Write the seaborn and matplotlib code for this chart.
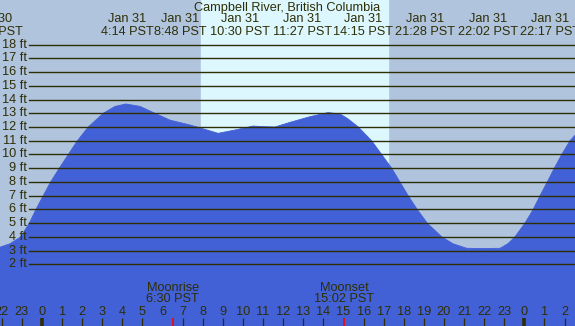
import matplotlib
matplotlib.use("Agg")
import matplotlib.pyplot as plt
import pandas as pd
import seaborn as sns

# tide height (ft) vs hours since midnight Jan 31 (PST)
hours = [-2.09, -1.59, -1.06, -0.63, -0.30, 0.06, 0.43, 0.86, 1.31, 1.76, 2.30,
         3.05, 3.63, 4.18, 4.88, 5.62, 6.37, 7.36, 8.11, 8.76, 9.60, 10.50,
         10.95, 11.59, 12.34, 13.33, 14.23, 14.83, 15.22, 15.74, 16.40, 16.90,
         17.40, 17.81, 18.22, 18.67, 19.17, 19.89, 20.45, 21.13, 21.94, 22.79,
         23.18, 23.53, 24.03, 24.44, 24.78, 25.14, 25.49, 25.86, 26.27, 26.52]
heights = [3.25, 3.50, 4.00, 5.00, 6.00, 7.00, 8.00, 9.00, 10.00, 11.00, 12.00,
           13.00, 13.50, 13.68, 13.50, 13.00, 12.50, 12.15, 11.83, 11.54, 11.78, 12.07,
           12.03, 12.00, 12.34, 12.75, 13.05, 12.95, 12.60, 12.00, 11.00, 10.00,
           9.00, 8.00, 7.00, 6.00, 5.00, 4.00, 3.50, 3.17, 3.15, 3.17,
           3.50, 4.00, 5.00, 6.00, 7.00, 8.00, 9.00, 10.00, 11.00, 11.40]

event_dates = ["Jan 30", "Jan 31", "Jan 31", "Jan 31", "Jan 31", "Jan 31", "Jan 31", "Jan 31", "Jan 31"]
event_times = ["21:34 PST", "4:14 PST", "8:48 PST", "10:30 PST", "11:27 PST",
               "14:15 PST", "21:28 PST", "22:02 PST", "22:17 PST"]
event_label_x = [-2.44, 4.23, 6.87, 9.85, 12.94, 15.97, 19.05, 22.19, 25.27]

sunrise, sunset = 7.91, 17.20
moon_names = ["Moonrise", "Moonset"]
moon_times = ["6:30 PST", "15:02 PST"]
moon_hours = [6.50, 15.03]

ft_levels = list(range(2, 19))
title = "Campbell River, British Columbia"

bg = "#B0C4DE"
day = "#DDF7FF"
water = "#4361D6"
ink = "#2E2E05"

df = pd.DataFrame({"hour": hours, "ft": heights})

fig = plt.figure(figsize=(5.75, 3.26), dpi=100)
fig.patch.set_facecolor(bg)
ax = fig.add_axes([0, 0, 1, 1])
ax.set_facecolor(bg)
plt.rcParams["font.family"] = ["Liberation Sans", "DejaVu Sans"]
fs = 9.2

ax.set_xlim(-2.09, 26.52)
ax.set_ylim(-2.49, 21.25)
ax.axvspan(sunrise, sunset, color=day, zorder=0)

ax.fill_between(df["hour"], -5, df["ft"], color=water, lw=0, zorder=1)
sns.lineplot(data=df, x="hour", y="ft", ax=ax, color=water, lw=0.6, zorder=1)

for lv in ft_levels:
    ax.axhline(lv, xmin=29 / 575, xmax=1, color=ink, lw=1.0, zorder=2)
    ax.text(27 / 575, lv, f"{lv} ft", transform=ax.get_yaxis_transform(),
            ha="right", va="center", fontsize=fs, color=ink)

xt = ax.get_xaxis_transform()
ax.text(0.5, 1 - 7.5 / 326, title, transform=ax.transAxes, ha="center",
        va="center", fontsize=fs, color=ink)
for d, t, x in zip(event_dates, event_times, event_label_x):
    ax.text(x, 1 - 19 / 326, d, transform=xt, ha="center", va="center",
            fontsize=fs, color=ink)
    ax.text(x, 1 - 32 / 326, t, transform=xt, ha="center", va="center",
            fontsize=fs, color=ink)

for name, t, h in zip(moon_names, moon_times, moon_hours):
    ax.text(h, 1 - 288 / 326, name, transform=xt, ha="center", va="center",
            fontsize=fs, color=ink)
    ax.text(h, 1 - 299 / 326, t, transform=xt, ha="center", va="center",
            fontsize=fs, color=ink)
    ax.vlines(h, 0, 8 / 326, transform=xt, color="red", lw=1.2, zorder=3)

for h in range(-2, 27):
    ax.text(h, 1 - 312 / 326, str(h % 24), transform=xt, ha="center",
            va="center", fontsize=fs, color=ink)
    if h % 24 == 0:
        ax.vlines(h, 0, 8 / 326, transform=xt, color=ink, lw=2.6, zorder=3)
    elif h not in (6, 15):
        ax.vlines(h, 0, 8 / 326, transform=xt, color=ink, lw=0.9, zorder=3)

ax.set_xlabel("")
ax.set_ylabel("")
ax.set_xticks([])
ax.set_yticks([])
for s in ax.spines.values():
    s.set_visible(False)

fig.savefig("out.png", dpi=100, facecolor=bg)
